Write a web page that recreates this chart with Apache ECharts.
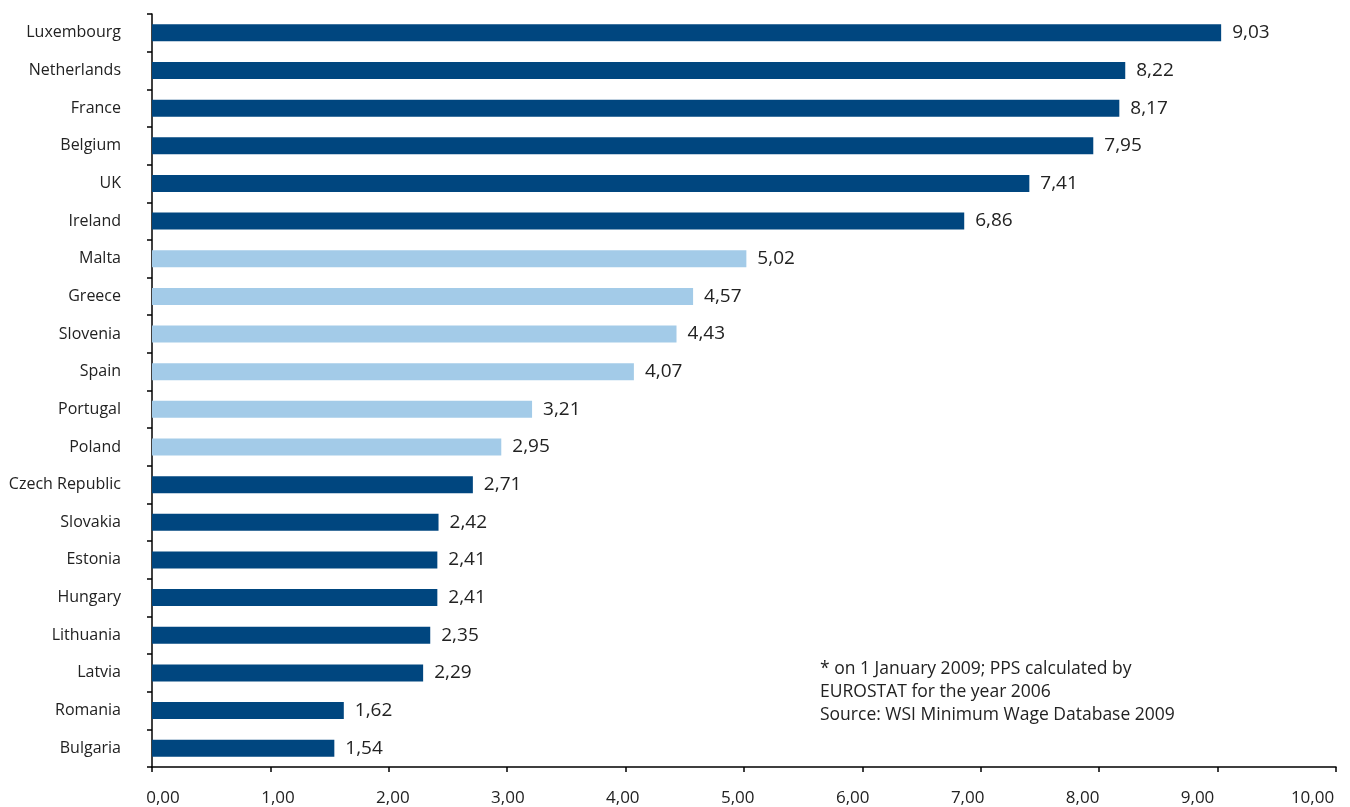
<!DOCTYPE html>
<html>
<head>
<meta charset="utf-8">
<script src="https://cdn.jsdelivr.net/npm/echarts@6/dist/echarts.min.js"></script>
<style>html,body{margin:0;padding:0;background:#fff}#c{width:1350px;height:807px}</style>
</head>
<body>
<div id="c"></div>
<script>
const categories = ["Luxembourg","Netherlands","France","Belgium","UK","Ireland","Malta","Greece","Slovenia","Spain","Portugal","Poland","Czech Republic","Slovakia","Estonia","Hungary","Lithuania","Latvia","Romania","Bulgaria"];
const values = [9.03,8.22,8.17,7.95,7.41,6.86,5.02,4.57,4.43,4.07,3.21,2.95,2.71,2.42,2.41,2.41,2.35,2.29,1.62,1.54];
const lightGroup = ["Malta","Greece","Slovenia","Spain","Portugal","Poland"];
const xTicks = [0,1,2,3,4,5,6,7,8,9,10];
const noteLines = ["* on 1 January 2009; PPS calculated by","EUROSTAT for the year 2006","Source: WSI Minimum Wage Database 2009"];

const DARK = '#00467f', LIGHT = '#a3cbe8';
const font = '"Open Sans", "Noto Sans", sans-serif';
const fmt = v => v.toFixed(2).replace('.', ',');
const chart = echarts.init(document.getElementById('c'));
chart.setOption({
  animation: false,
  grid: {left: 152, right: 14, top: 14, bottom: 40, containLabel: false, outerBoundsMode: 'none'},
  xAxis: [{
    type: 'value', min: xTicks[0], max: xTicks[xTicks.length-1], interval: 1,
    axisLine: {show: true, lineStyle: {color: '#000', width: 1.5}},
    axisTick: {show: true, length: 5, lineStyle: {color: '#000', width: 1.5}},
    splitLine: {show: false},
    axisLabel: {show: false}
  }, {
    // label-only axis: tick labels in the reference are spaced slightly tighter than the ticks
    type: 'value', position: 'bottom', min: -0.0957, max: 10.2043,
    axisLine: {show: false}, axisTick: {show: false}, splitLine: {show: false},
    axisLabel: {show: true, customValues: xTicks, color: '#222', fontFamily: font, fontSize: 17, margin: 23,
      formatter: v => fmt(v)}
  }],
  yAxis: {
    type: 'category', data: categories, inverse: true,
    axisLine: {show: true, lineStyle: {color: '#000', width: 1.5}},
    axisTick: {show: true, length: 5, lineStyle: {color: '#000', width: 1.5}},
    axisLabel: {color: '#222', fontFamily: font, fontSize: 16, margin: 31, padding: [4, 0, 0, 0]}
  },
  series: [{
    type: 'bar', barWidth: 17, xAxisIndex: 0,
    data: values.map((v, i) => ({value: v, itemStyle: {color: lightGroup.includes(categories[i]) ? LIGHT : DARK}})),
    label: {show: true, position: 'right', distance: 11, color: '#222', fontFamily: font, fontSize: 19,
      padding: [3, 0, 0, 0], formatter: p => fmt(p.value)}
  }],
  graphic: [{
    type: 'text', left: 820, top: 658,
    style: {text: noteLines.join('\n'), font: '17.5px ' + font, fill: '#222', lineHeight: 23}
  }]
});
</script>
</body>
</html>
